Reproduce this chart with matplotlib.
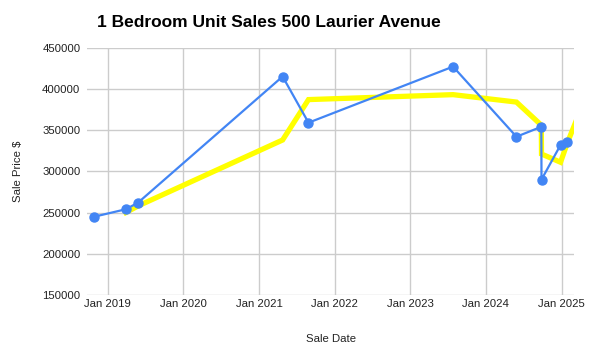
import matplotlib
matplotlib.use("Agg")
import matplotlib.pyplot as plt
import matplotlib.dates as mdates
import pandas as pd

plt.rcParams['font.family'] = ['Liberation Sans', 'DejaVu Sans']

# sale dates and prices
sale_dates = ["2018-10-29", "2019-03-30", "2019-05-28", "2021-04-25", "2021-08-28",
              "2023-07-27", "2024-05-28", "2024-09-25", "2024-09-26", "2024-12-27",
              "2025-01-28"]
sale_prices = [245000, 254000, 262000, 415000, 359000,
               427000, 342000, 354000, 290000, 332000,
               336000]

# yellow trend line
trend_dates = ["2019-03-30", "2019-05-28", "2021-04-25", "2021-08-28", "2023-07-27",
               "2024-05-28", "2024-09-25", "2024-09-26", "2024-12-27", "2025-01-28",
               "2025-03-20"]
trend_prices = [250000, 258000, 338000, 387000, 393000,
                384000, 356000, 321000, 311000, 334000,
                366000]

yticks = [150000, 200000, 250000, 300000, 350000, 400000, 450000]
xtick_years = [2019, 2020, 2021, 2022, 2023, 2024, 2025]

fig = plt.figure(figsize=(5.93, 3.61), dpi=100)
ax = fig.add_axes([0.1472, 0.1828, 0.8208, 0.6852])

ax.plot(pd.to_datetime(sale_dates), sale_prices, color="#4285F4", lw=1.6,
        marker="o", ms=6.5, zorder=3)
ax.plot(pd.to_datetime(trend_dates), trend_prices, color="#FFFF00", lw=3.8,
        solid_joinstyle="miter", zorder=2)

ax.set_xlim(pd.Timestamp("2018-09-25"), pd.Timestamp("2025-03-02"))
ax.set_ylim(150000, 450000)
ax.set_yticks(yticks)
ax.set_yticklabels([str(v) for v in yticks])
ax.set_xticks([pd.Timestamp(f"{y}-01-01") for y in xtick_years])
ax.xaxis.set_major_formatter(mdates.DateFormatter("Jan %Y"))

ax.grid(True, color="#cccccc", lw=1)
ax.set_axisbelow(True)
for s in ax.spines.values():
    s.set_visible(False)
ax.tick_params(length=0, labelsize=8.2, colors="#222222")
ax.tick_params(axis="y", pad=5)
ax.tick_params(axis="x", pad=3)

ax.set_xlabel("Sale Date", fontsize=8.2, color="#222222", labelpad=18)
ax.set_ylabel("Sale Price $", fontsize=8.2, color="#222222", labelpad=14)

fig.text(97 / 593, 1 - 27 / 361, "1 Bedroom Unit Sales 500 Laurier Avenue",
         fontsize=12.5, fontweight="bold", color="black", va="baseline")

fig.savefig("out.png", dpi=100)
